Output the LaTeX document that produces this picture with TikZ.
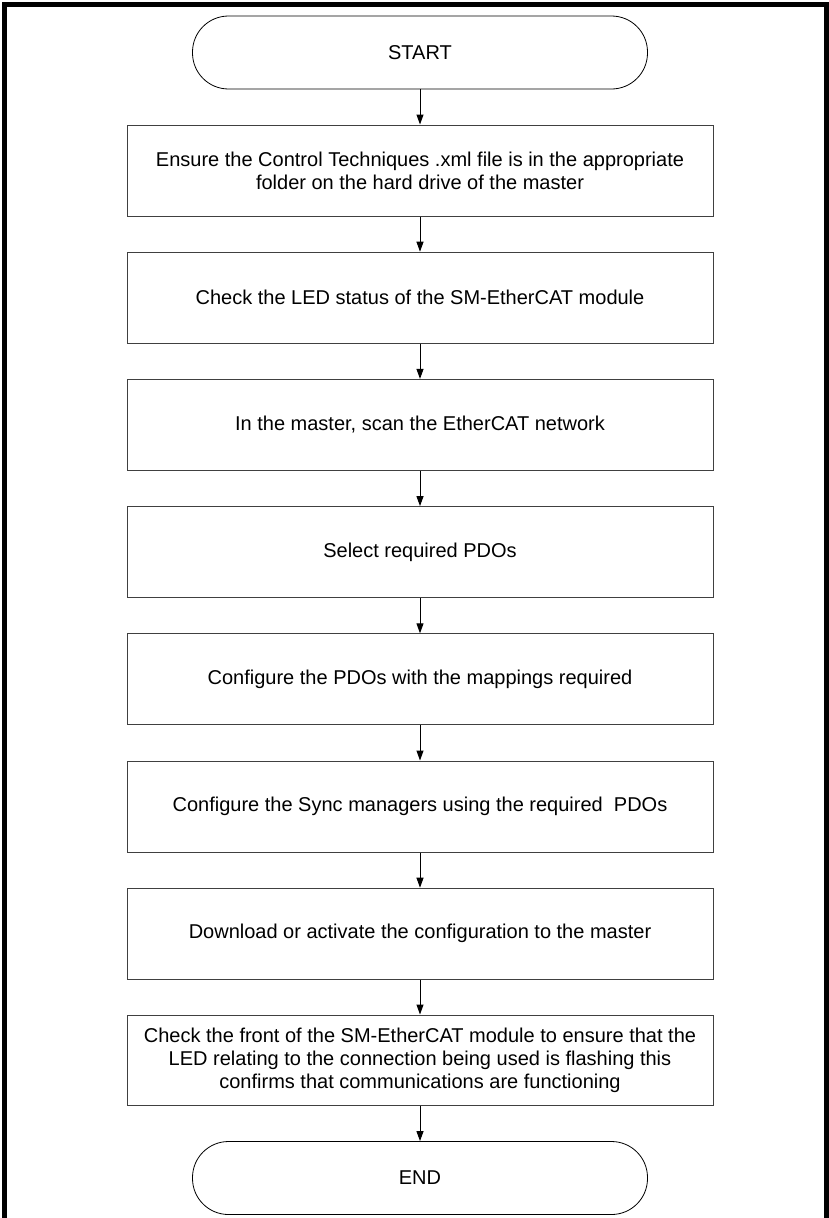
\documentclass[tikz,border=0pt]{standalone}
\usepackage{fontspec}
\setmainfont{Liberation Sans}
\usetikzlibrary{arrows.meta}

\begin{document}
\begin{tikzpicture}[x=1pt, y=-1pt, line width=1pt, ->, >={Triangle[length=10pt,width=7pt]}]
  \tikzstyle{terminal}=[draw, rectangle, rounded corners=36pt, minimum width=455pt, minimum height=73pt, line width=0.8pt, font=\fontsize{20}{23}\selectfont]
  \tikzstyle{stepbox}=[draw=black!75, rectangle, minimum width=586pt, minimum height=91pt, align=center, font=\fontsize{20}{23}\selectfont]
  \useasboundingbox (0,0) rectangle (828,1218);
  % page frame
  \draw[-, line width=5pt] (4.5,1218) -- (4.5,4.5) -- (826,4.5) -- (826,1218);
  \node[terminal] (F_0) at (420,52.5) {START};
  \node[stepbox] (F_1) at (420,170.5) {Ensure the Control Techniques .xml file is in the appropriate\\folder on the hard drive of the master};
  \node[stepbox] (F_2) at (420,297.7) {Check the LED status of the SM-EtherCAT module};
  \node[stepbox] (F_3) at (420,424.9) {In the master, scan the EtherCAT network};
  \node[stepbox] (F_4) at (420,552.1) {Select required PDOs};
  \node[stepbox] (F_5) at (420,679.3) {Configure the PDOs with the mappings required};
  \node[stepbox] (F_6) at (420,806.5) {Configure the Sync managers using the required\ \ PDOs};
  \node[stepbox] (F_7) at (420,933.7) {Download or activate the configuration to the master};
  \node[stepbox, minimum height=90pt] (F_8) at (420,1060) {Check the front of the SM-EtherCAT module to ensure that the\\LED relating to the connection being used is flashing this\\confirms that communications are functioning};
  \node[terminal] (F_9) at (420,1178) {END};
  \draw (F_0) -- (F_1);
  \draw (F_1) -- (F_2);
  \draw (F_2) -- (F_3);
  \draw (F_3) -- (F_4);
  \draw (F_4) -- (F_5);
  \draw (F_5) -- (F_6);
  \draw (F_6) -- (F_7);
  \draw (F_7) -- (F_8);
  \draw (F_8) -- (F_9);
\end{tikzpicture}
\end{document}
